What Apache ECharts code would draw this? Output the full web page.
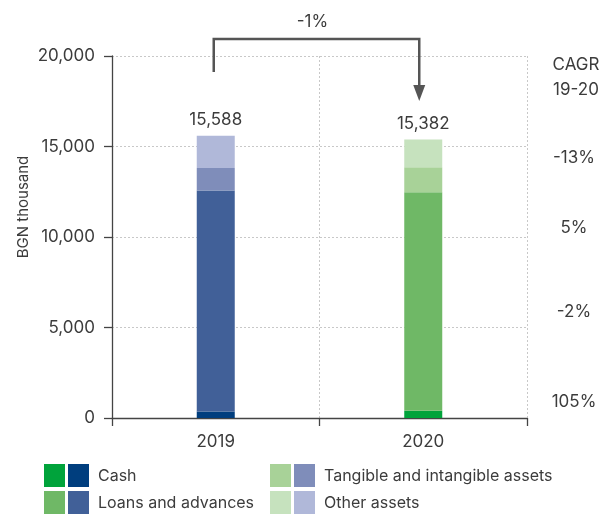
<!DOCTYPE html>
<html>
<head>
<meta charset="utf-8">
<script src="https://cdn.jsdelivr.net/npm/echarts@6/dist/echarts.min.js"></script>
<style>html,body{margin:0;padding:0;background:#fff;}#c{width:602px;height:514px;}</style>
</head>
<body>
<div id="c"></div>
<script>
const years = ['2019', '2020'];
const cash = [360, 400];
const loans = [12215, 12070];
const tangible = [1240, 1380];
const other = [1773, 1532];
const totals = [15588, 15382];
const seriesNames = ['Cash', 'Loans and advances', 'Tangible and intangible assets', 'Other assets'];
const cagrLabels = ['-13%', '5%', '-2%', '105%'];
const totalChange = '-1%';

const blues = ['#003e7e', '#416098', '#7f8dba', '#b0b8d9'];
const greens = ['#00a33b', '#6fb866', '#a8d298', '#c6e2be'];
const FONT = 'Inter';
const TXT = '#3c3c3c';
const FS = 16;
const NFS = 17;

const dataSets = [cash, loans, tangible, other];
const chart = echarts.init(document.getElementById('c'), null, {renderer: 'canvas'});

const series = dataSets.map((arr, i) => ({
  name: seriesNames[i],
  type: 'bar',
  stack: 'total',
  barWidth: 38,
  data: arr.map((v, j) => ({value: v, itemStyle: {color: j === 0 ? blues[i] : greens[i]}})),
  label: i === 3 ? {
    show: true, position: 'top', distance: 7,
    formatter: p => totals[p.dataIndex].toLocaleString('en-US'),
    fontFamily: FONT, fontSize: NFS, color: TXT
  } : {show: false}
}));

const fmt = v => v.toLocaleString('en-US');

chart.setOption({
  animation: false,
  grid: {left: 112, right: 75, top: 56, bottom: 96},
  xAxis: {
    type: 'category', data: years,
    axisLine: {lineStyle: {color: '#444', width: 1.3}},
    axisTick: {show: true, length: 8, lineStyle: {color: '#444', width: 1.3}},
    axisLabel: {fontFamily: FONT, fontSize: NFS, color: TXT, margin: 15},
    splitLine: {show: true, interval: 0, lineStyle: {color: '#c8c8c8', type: [2, 2], width: 1}}
  },
  yAxis: {
    type: 'value', min: 0, max: 20000, interval: 5000,
    axisLine: {show: true, lineStyle: {color: '#444', width: 1.3}},
    axisTick: {show: true, length: 8, lineStyle: {color: '#444', width: 1.3}},
    axisLabel: {fontFamily: FONT, fontSize: NFS, color: TXT, margin: 17, formatter: v => fmt(v)},
    splitLine: {show: true, lineStyle: {color: '#c8c8c8', type: [2, 2], width: 1}}
  },
  series: series
});

const x0 = chart.convertToPixel({xAxisIndex: 0}, years[0]) - 2;
const x1 = chart.convertToPixel({xAxisIndex: 0}, years[1]) - 4;
const g = [];
g.push({type: 'text', x: 23, y: 207, rotation: Math.PI / 2,
  style: {text: 'BGN thousand', fontFamily: FONT, fontSize: 15, fill: TXT, align: 'center', verticalAlign: 'middle'}});
g.push({type: 'polyline', shape: {points: [[x0, 72], [x0, 39], [x1, 39], [x1, 88]]},
  style: {stroke: '#555', lineWidth: 2.5, fill: null}});
g.push({type: 'polygon', shape: {points: [[x1 - 6, 85], [x1 + 6, 85], [x1, 101]]}, style: {fill: '#555'}});
g.push({type: 'text', x: (x0 + x1) / 2 - 4, y: 22,
  style: {text: totalChange, fontFamily: FONT, fontSize: NFS, fill: TXT, align: 'center', verticalAlign: 'middle'}});
const cagrY = [158, 228, 312, 402];
g.push({type: 'text', x: 576, y: 65, style: {text: 'CAGR', fontFamily: FONT, fontSize: NFS, fill: TXT, align: 'center', verticalAlign: 'middle'}});
g.push({type: 'text', x: 576, y: 90, style: {text: '19-20', fontFamily: FONT, fontSize: NFS, fill: TXT, align: 'center', verticalAlign: 'middle'}});
cagrLabels.forEach((t, i) => g.push({type: 'text', x: 574, y: cagrY[i],
  style: {text: t, fontFamily: FONT, fontSize: NFS, fill: TXT, align: 'center', verticalAlign: 'middle'}}));
const legPos = [[44, 464], [44, 491], [270, 464], [270, 491]];
seriesNames.forEach((n, i) => {
  const [lx, ly] = legPos[i];
  g.push({type: 'rect', shape: {x: lx, y: ly, width: 21, height: 23}, style: {fill: greens[i]}});
  g.push({type: 'rect', shape: {x: lx + 24, y: ly, width: 21, height: 23}, style: {fill: blues[i]}});
  g.push({type: 'text', x: lx + 54, y: ly + 12,
    style: {text: n, fontFamily: FONT, fontSize: FS, fill: TXT, align: 'left', verticalAlign: 'middle'}});
});
chart.setOption({graphic: g});
</script>
</body>
</html>
